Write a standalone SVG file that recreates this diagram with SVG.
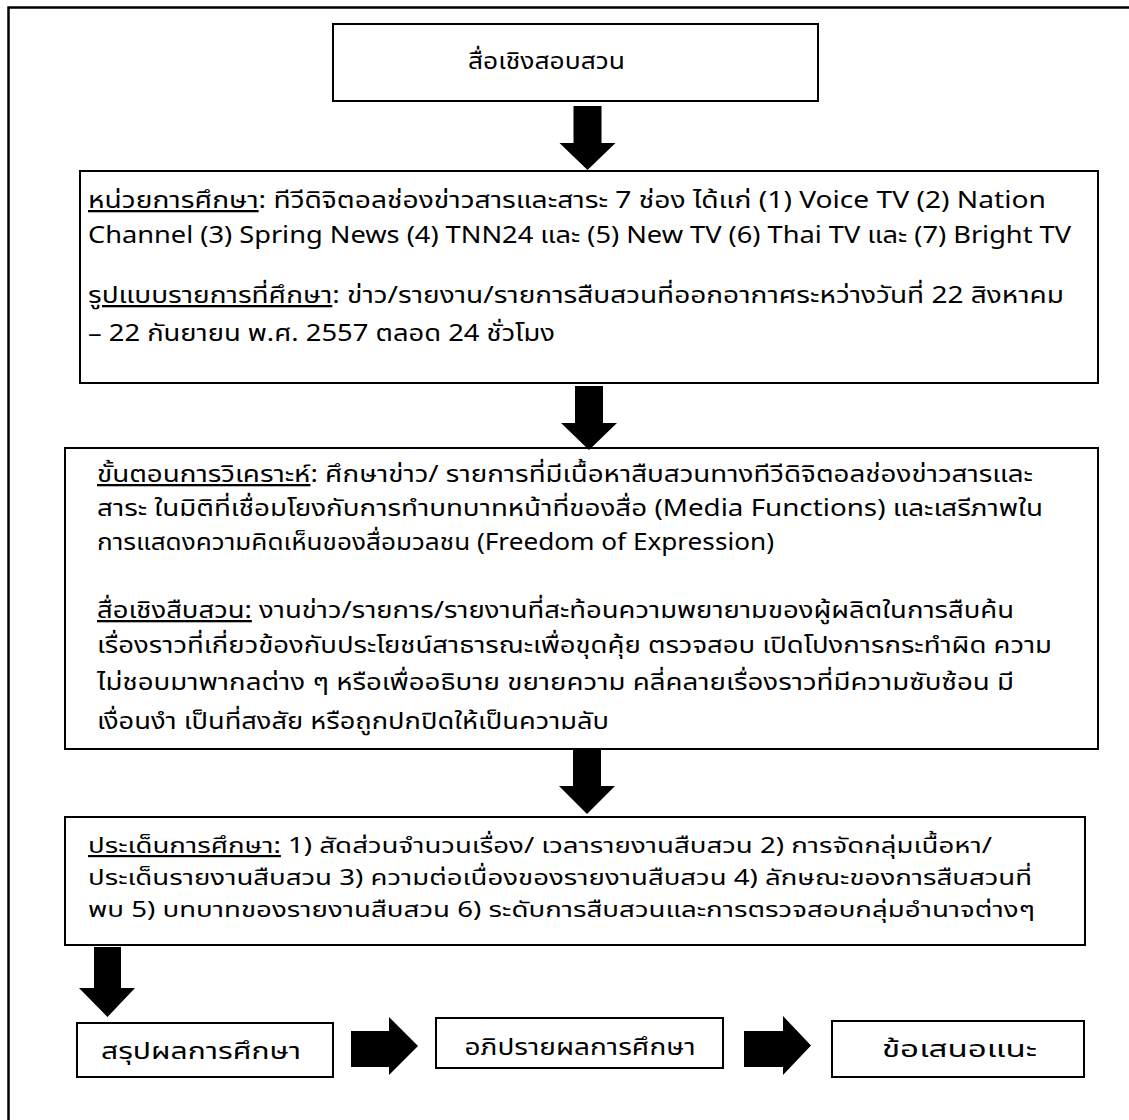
<svg xmlns="http://www.w3.org/2000/svg" width="1129" height="1120" viewBox="0 0 1129 1120">
<style>
.box{fill:#fff;stroke:#000;stroke-width:2}
.t{font-family:Tahoma,Waree,"Noto Sans Thai","Liberation Sans","Noto Sans",sans-serif;font-size:23px;fill:#000}
.s{font-size:22px}
.c{text-anchor:middle}
.u{text-decoration:underline}
.arr{fill:#000}
</style>
<rect x="0" y="0" width="1129" height="1120" fill="#fff"/>
<path d="M8.5,1120 V7.5 H1129" fill="none" stroke="#000" stroke-width="2.5"/>
<g id="n1"><rect class="box" x="333" y="24" width="485" height="77"/>
<text class="t c" x="546.5" y="69" textLength="157" lengthAdjust="spacingAndGlyphs">สื่อเชิงสอบสวน</text></g>
<g id="n2"><rect class="box" x="80" y="171" width="1018" height="212"/>
<text class="t" x="88" y="208" textLength="958" lengthAdjust="spacingAndGlyphs"><tspan class="u">หน่วยการศึกษา</tspan>: ทีวีดิจิตอลช่องข่าวสารและสาระ 7 ช่อง ได้แก่  (1) Voice TV (2) Nation</text>
<text class="t" x="88" y="243" textLength="983" lengthAdjust="spacingAndGlyphs">Channel (3) Spring News  (4) TNN24 และ (5) New TV (6) Thai TV และ (7) Bright TV</text>
<text class="t" x="88" y="303" textLength="976" lengthAdjust="spacingAndGlyphs"><tspan class="u">รูปแบบรายการที่ศึกษา</tspan>:  ข่าว/รายงาน/รายการสืบสวนที่ออกอากาศระหว่างวันที่ 22 สิงหาคม</text>
<text class="t" x="88" y="341" textLength="467" lengthAdjust="spacingAndGlyphs">– 22 กันยายน พ.ศ. 2557 ตลอด 24 ชั่วโมง</text></g>
<g id="n3"><rect class="box" x="65" y="448" width="1033" height="301"/>
<text class="t" x="97" y="482" textLength="936" lengthAdjust="spacingAndGlyphs"><tspan class="u">ขั้นตอนการวิเคราะห์</tspan>: ศึกษาข่าว/ รายการที่มีเนื้อหาสืบสวนทางทีวีดิจิตอลช่องข่าวสารและ</text>
<text class="t" x="97" y="516" textLength="946" lengthAdjust="spacingAndGlyphs">สาระ ในมิติที่เชื่อมโยงกับการทำบทบาทหน้าที่ของสื่อ (Media Functions) และเสรีภาพใน</text>
<text class="t" x="97" y="550" textLength="677" lengthAdjust="spacingAndGlyphs">การแสดงความคิดเห็นของสื่อมวลชน (Freedom of Expression)</text>
<text class="t" x="97" y="618" textLength="917" lengthAdjust="spacingAndGlyphs"><tspan class="u">สื่อเชิงสืบสวน:</tspan> งานข่าว/รายการ/รายงานที่สะท้อนความพยายามของผู้ผลิตในการสืบค้น</text>
<text class="t" x="97" y="653" textLength="955" lengthAdjust="spacingAndGlyphs">เรื่องราวที่เกี่ยวข้องกับประโยชน์สาธารณะเพื่อขุดคุ้ย ตรวจสอบ เปิดโปงการกระทำผิด ความ</text>
<text class="t" x="97" y="690" textLength="917" lengthAdjust="spacingAndGlyphs">ไม่ชอบมาพากลต่าง ๆ หรือเพื่ออธิบาย ขยายความ คลี่คลายเรื่องราวที่มีความซับซ้อน มี</text>
<text class="t" x="97" y="729" textLength="512" lengthAdjust="spacingAndGlyphs">เงื่อนงำ เป็นที่สงสัย หรือถูกปกปิดให้เป็นความลับ</text></g>
<g id="n4"><rect class="box" x="65" y="817" width="1020" height="128"/>
<text class="t s" x="88" y="853" textLength="904" lengthAdjust="spacingAndGlyphs"><tspan class="u">ประเด็นการศึกษา:</tspan> 1) สัดส่วนจำนวนเรื่อง/ เวลารายงานสืบสวน 2) การจัดกลุ่มเนื้อหา/</text>
<text class="t s" x="88" y="885" textLength="944" lengthAdjust="spacingAndGlyphs">ประเด็นรายงานสืบสวน 3) ความต่อเนื่องของรายงานสืบสวน 4) ลักษณะของการสืบสวนที่</text>
<text class="t s" x="88" y="917" textLength="947" lengthAdjust="spacingAndGlyphs">พบ 5) บทบาทของรายงานสืบสวน 6) ระดับการสืบสวนและการตรวจสอบกลุ่มอำนาจต่างๆ</text></g>
<g id="n5"><rect class="box" x="77" y="1023" width="256" height="54"/>
<text class="t c" x="201" y="1059" textLength="200" lengthAdjust="spacingAndGlyphs">สรุปผลการศึกษา</text></g>
<g id="n6"><rect class="box" x="436" y="1018" width="287" height="50"/>
<text class="t c" x="580" y="1055" textLength="231" lengthAdjust="spacingAndGlyphs">อภิปรายผลการศึกษา</text></g>
<g id="n7"><rect class="box" x="832" y="1021" width="252" height="56"/>
<text class="t c" x="959.5" y="1057" textLength="155" lengthAdjust="spacingAndGlyphs">ข้อเสนอแนะ</text></g>
<g id="connectors">
<polygon class="arr" points="573.5,106 601.5,106 601.5,143 615.5,143 587.5,170 559.5,143 573.5,143"/>
<polygon class="arr" points="575,386 603,386 603,423 617,423 589,450 561,423 575,423"/>
<polygon class="arr" points="573,749 601,749 601,786 615,786 587,814 559,786 573,786"/>
<polygon class="arr" points="94,947 121,947 121,988 135,988 107.5,1017 79,988 94,988"/>
<polygon class="arr" points="351,1031 389,1031 389,1017 418,1046 389,1075 389,1067 351,1067"/>
<polygon class="arr" points="744,1031 783,1031 783,1016 811,1045.5 783,1075 783,1067 744,1067"/>
</g>
</svg>
